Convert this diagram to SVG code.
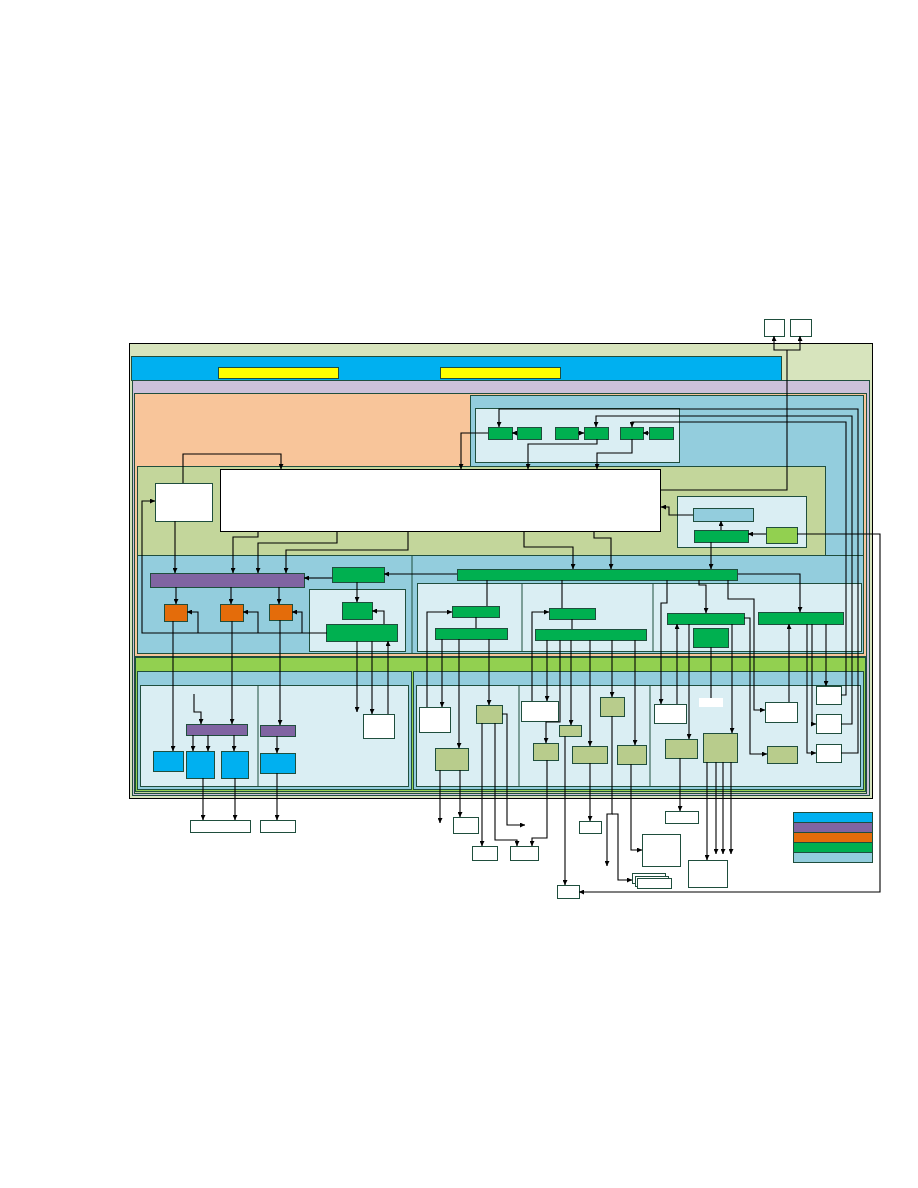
<svg xmlns="http://www.w3.org/2000/svg" width="918" height="1188" viewBox="0 0 918 1188">
<style>
.pn{stroke:#1f4e3d;stroke-width:1}
.bx{stroke:#1f4e3d;stroke-width:1}
.g{fill:#00b050}.o{fill:#e46c0a}.p{fill:#8064a2}.b{fill:#00b0f0}.w{fill:#fff}.ol{fill:#b8cc8c}.lb{fill:#93cddd}.lp{fill:#daeef3}.lm{fill:#92d050}.y{fill:#ffff00}
.c path{fill:none;stroke:#000;stroke-width:1.1}
</style>
<defs>
<marker id="a" viewBox="0 0 6 6" refX="6" refY="3" markerWidth="5" markerHeight="5" orient="auto" markerUnits="userSpaceOnUse"><path d="M0,0L6,3L0,6z" fill="#000"/></marker>
</defs>
<rect width="918" height="1188" fill="#fff"/>
<g id="frames">
<rect x="129.5" y="343.5" width="743" height="455" fill="#d7e4bd" stroke="#000"/>
<rect x="131.5" y="356.5" width="650" height="24" class="b pn"/>
<rect x="132.5" y="380.5" width="737" height="415" fill="#ccc1da" class="pn"/>
<rect x="134.5" y="393.5" width="732" height="263" fill="#f8c59a" class="pn"/>
<rect x="470.5" y="395.5" width="393" height="258" class="lb pn"/>
<rect x="137.5" y="555.5" width="726" height="98" class="lb pn"/>
<line x1="412" y1="555" x2="412" y2="653" stroke="#1f4e3d"/>
<rect x="137.5" y="466.5" width="688" height="89" fill="#c3d69b" class="pn"/>
<rect x="475.5" y="408.5" width="204" height="54" class="lp pn"/>
<rect x="677.5" y="496.5" width="129" height="51" class="lp pn"/>
<rect x="309.5" y="589.5" width="96" height="62" class="lp pn"/>
<rect x="417.5" y="583.5" width="444" height="68" class="lp pn"/>
<line x1="522" y1="583" x2="522" y2="651" stroke="#1f4e3d"/>
<line x1="653" y1="583" x2="653" y2="651" stroke="#1f4e3d"/>
<rect x="134.5" y="656.5" width="732" height="137" fill="#c3d69b" class="pn"/>
<rect x="135.5" y="657.5" width="730" height="134" class="lm pn"/>
<rect x="137.5" y="671.5" width="274" height="118" class="lb pn"/>
<rect x="413.5" y="671.5" width="450" height="118" class="lb pn"/>
<rect x="140.5" y="685.5" width="268" height="101" class="lp pn"/>
<line x1="258" y1="685" x2="258" y2="786" stroke="#1f4e3d"/>
<rect x="416.5" y="685.5" width="444" height="101" class="lp pn"/>
<line x1="519" y1="685" x2="519" y2="786" stroke="#1f4e3d"/>
<line x1="650" y1="685" x2="650" y2="786" stroke="#1f4e3d"/>
<rect x="218.5" y="367.5" width="120" height="11" class="y pn"/>
<rect x="440.5" y="367.5" width="120" height="11" class="y pn"/>
</g>
<g id="legend">
<rect x="793.5" y="812.5" width="79" height="10" class="b bx"/>
<rect x="793.5" y="822.5" width="79" height="10" class="p bx"/>
<rect x="793.5" y="832.5" width="79" height="10" class="o bx"/>
<rect x="793.5" y="842.5" width="79" height="10" class="g bx"/>
<rect x="793.5" y="852.5" width="79" height="10" class="lb bx"/>
</g>
<g id="nodes">
<rect id="t1" x="764.5" y="319.5" width="20" height="17" class="w bx"/>
<rect id="t2" x="790.5" y="319.5" width="21" height="17" class="w bx"/>
<rect id="g1" x="488.5" y="427.5" width="24" height="12" class="g bx"/>
<rect id="g2" x="517.5" y="427.5" width="24" height="12" class="g bx"/>
<rect id="g3" x="555.5" y="427.5" width="23" height="12" class="g bx"/>
<rect id="g4" x="584.5" y="427.5" width="24" height="12" class="g bx"/>
<rect id="g5" x="620.5" y="427.5" width="23" height="12" class="g bx"/>
<rect id="g6" x="649.5" y="427.5" width="24" height="12" class="g bx"/>
<rect id="big" x="220.5" y="469.5" width="440" height="62" class="w" stroke="#000"/>
<rect id="sw" x="155.5" y="483.5" width="57" height="38" class="w bx"/>
<rect id="lbx" x="693.5" y="508.5" width="60" height="13" class="lb bx"/>
<rect id="gpx" x="694.5" y="530.5" width="54" height="12" class="g bx"/>
<rect id="lime" x="766.5" y="527.5" width="31" height="16" class="lm bx"/>
<rect id="pur" x="150.5" y="573.5" width="154" height="14" class="p bx"/>
<rect id="ga" x="332.5" y="567.5" width="52" height="15" class="g bx"/>
<rect id="gb" x="342.5" y="602.5" width="30" height="17" class="g bx"/>
<rect id="gc" x="326.5" y="624.5" width="71" height="17" class="g bx"/>
<rect id="o1" x="164.5" y="604.5" width="23" height="17" class="o bx"/>
<rect id="o2" x="220.5" y="604.5" width="23" height="17" class="o bx"/>
<rect id="o3" x="269.5" y="604.5" width="23" height="16" class="o bx"/>
<rect id="bar" x="457.5" y="569.5" width="280" height="11" class="g bx"/>
<rect id="p1a" x="452.5" y="606.5" width="47" height="11" class="g bx"/>
<rect id="p1b" x="435.5" y="628.5" width="72" height="11" class="g bx"/>
<rect id="p2a" x="549.5" y="608.5" width="46" height="11" class="g bx"/>
<rect id="p2b" x="535.5" y="629.5" width="111" height="11" class="g bx"/>
<rect id="g3a" x="667.5" y="613.5" width="77" height="11" class="g bx"/>
<rect id="g3b" x="693.5" y="628.5" width="35" height="19" class="g bx"/>
<rect id="g4b" x="758.5" y="612.5" width="85" height="12" class="g bx"/>
<rect id="wsm" x="363.5" y="714.5" width="31" height="24" class="w bx"/>
<rect id="pu2" x="186.5" y="724.5" width="61" height="11" class="p bx"/>
<rect id="pu3" x="260.5" y="725.5" width="35" height="11" class="p bx"/>
<rect id="b1" x="153.5" y="751.5" width="30" height="20" class="b bx"/>
<rect id="b2" x="186.5" y="751.5" width="28" height="27" class="b bx"/>
<rect id="b3" x="221.5" y="751.5" width="27" height="27" class="b bx"/>
<rect id="b4" x="260.5" y="753.5" width="35" height="20" class="b bx"/>
<rect id="w1" x="419.5" y="707.5" width="31" height="25" class="w bx"/>
<rect id="ob1" x="435.5" y="748.5" width="33" height="22" class="ol bx"/>
<rect id="ob2" x="476.5" y="705.5" width="26" height="18" class="ol bx"/>
<rect id="w2" x="521.5" y="701.5" width="37" height="20" class="w bx"/>
<rect id="ob3" x="533.5" y="743.5" width="25" height="17" class="ol bx"/>
<rect id="ob4" x="559.5" y="725.5" width="22" height="11" class="ol bx"/>
<rect id="ob5" x="572.5" y="746.5" width="35" height="17" class="ol bx"/>
<rect id="ob6" x="600.5" y="697.5" width="24" height="19" class="ol bx"/>
<rect id="ob7" x="617.5" y="745.5" width="29" height="19" class="ol bx"/>
<rect id="w3" x="654.5" y="704.5" width="32" height="19" class="w bx"/>
<rect id="wnb" x="699" y="698" width="24" height="9" fill="#fff"/>
<rect id="w4" x="765.5" y="702.5" width="32" height="20" class="w bx"/>
<rect id="w5" x="816.5" y="686.5" width="25" height="18" class="w bx"/>
<rect id="w6" x="816.5" y="714.5" width="25" height="19" class="w bx"/>
<rect id="w7" x="816.5" y="744.5" width="25" height="18" class="w bx"/>
<rect id="ob8" x="665.5" y="739.5" width="32" height="19" class="ol bx"/>
<rect id="ob9" x="767.5" y="746.5" width="30" height="17" class="ol bx"/>
<rect id="ob10" x="703.5" y="733.5" width="34" height="29" class="ol bx"/>
<rect id="q0a" x="190.5" y="820.5" width="60" height="12" class="w bx"/>
<rect id="q0b" x="260.5" y="820.5" width="35" height="12" class="w bx"/>
<rect id="q1" x="453.5" y="817.5" width="25" height="16" class="w bx"/>
<rect id="q2" x="472.5" y="846.5" width="25" height="14" class="w bx"/>
<rect id="q3" x="510.5" y="846.5" width="28" height="14" class="w bx"/>
<rect id="q4" x="579.5" y="821.5" width="22" height="12" class="w bx"/>
<rect id="q5" x="557.5" y="885.5" width="22" height="13" class="w bx"/>
<rect id="q6" x="665.5" y="811.5" width="33" height="12" class="w bx"/>
<rect id="r1" x="642.5" y="834.5" width="38" height="32" class="w bx"/>
<rect id="r2" x="688.5" y="860.5" width="39" height="27" class="w bx"/>
<g id="stack">
<rect x="632.5" y="873.5" width="33" height="10" class="w bx"/>
<rect x="635.5" y="876.5" width="33" height="10" class="w bx"/>
<rect x="637.5" y="878.5" width="34" height="10" class="w bx"/>
</g>
</g>
<g id="connectors" class="c">
<path d="M517,433H512" marker-end="url(#a)"/>
<path d="M578,433H584" marker-end="url(#a)"/>
<path d="M649,433H643" marker-end="url(#a)"/>
<path d="M841,753H858V409H499V427" marker-end="url(#a)"/>
<path d="M841,724H852V416H596V427" marker-end="url(#a)"/>
<path d="M841,695H846V422H632V427" marker-end="url(#a)"/>
<path d="M488,433H461V469" marker-end="url(#a)"/>
<path d="M597,439V444H528V469" marker-end="url(#a)"/>
<path d="M632,439V453H597V469" marker-end="url(#a)"/>
<path d="M183,483V454H281V469" marker-end="url(#a)"/>
<path d="M327,633H142V501H155" marker-end="url(#a)"/>
<path d="M198,633V612H187" marker-end="url(#a)"/>
<path d="M258,633V612H243" marker-end="url(#a)"/>
<path d="M302,633V612H292" marker-end="url(#a)"/>
<path d="M175,521V573" marker-end="url(#a)"/>
<path d="M258,531V537H233V573" marker-end="url(#a)"/>
<path d="M337,531V543H258V573" marker-end="url(#a)"/>
<path d="M408,531V550H286V573" marker-end="url(#a)"/>
<path d="M332,578H304" marker-end="url(#a)"/>
<path d="M457,574H384" marker-end="url(#a)"/>
<path d="M357,582V602" marker-end="url(#a)"/>
<path d="M384,624V611H372" marker-end="url(#a)"/>
<path d="M357,641V712" marker-end="url(#a)"/>
<path d="M372,641V714" marker-end="url(#a)"/>
<path d="M388,714V641" marker-end="url(#a)"/>
<path d="M176,587V604" marker-end="url(#a)"/>
<path d="M231,587V604" marker-end="url(#a)"/>
<path d="M279,587V604" marker-end="url(#a)"/>
<path d="M173,621V751" marker-end="url(#a)"/>
<path d="M232,621V724" marker-end="url(#a)"/>
<path d="M280,620V725" marker-end="url(#a)"/>
<path d="M194,694V712H201V724" marker-end="url(#a)"/>
<path d="M193,735V751" marker-end="url(#a)"/>
<path d="M208,735V751" marker-end="url(#a)"/>
<path d="M234,735V751" marker-end="url(#a)"/>
<path d="M277,736V753" marker-end="url(#a)"/>
<path d="M203,778V820" marker-end="url(#a)"/>
<path d="M235,778V820" marker-end="url(#a)"/>
<path d="M277,773V820" marker-end="url(#a)"/>
<path d="M524,531V547H573V569" marker-end="url(#a)"/>
<path d="M594,531V538H611V569" marker-end="url(#a)"/>
<path d="M711,542V569" marker-end="url(#a)"/>
<path d="M721,530V521" marker-end="url(#a)"/>
<path d="M766,534H748" marker-end="url(#a)"/>
<path d="M693,515H669V507H661" marker-end="url(#a)"/>
<path d="M797,534H880V892H579" marker-end="url(#a)"/>
<path d="M661,490H787V350"/>
<path d="M787,350H774V336" marker-end="url(#a)"/>
<path d="M787,350H800V336" marker-end="url(#a)"/>
<path d="M738,574H800V612" marker-end="url(#a)"/>
<path d="M487,580V606"/>
<path d="M476,617V628"/>
<path d="M427,707V612H452" marker-end="url(#a)"/>
<path d="M442,639V707" marker-end="url(#a)"/>
<path d="M459,639V748" marker-end="url(#a)"/>
<path d="M489,639V705" marker-end="url(#a)"/>
<path d="M440,770V823" marker-end="url(#a)"/>
<path d="M460,770V817" marker-end="url(#a)"/>
<path d="M482,723V846" marker-end="url(#a)"/>
<path d="M495,723V840H517V846" marker-end="url(#a)"/>
<path d="M502,714H507V825H525" marker-end="url(#a)"/>
<path d="M562,580V608"/>
<path d="M572,619V629"/>
<path d="M532,701V612H549" marker-end="url(#a)"/>
<path d="M547,640V701" marker-end="url(#a)"/>
<path d="M560,640V722H546V743" marker-end="url(#a)"/>
<path d="M571,640V725" marker-end="url(#a)"/>
<path d="M590,640V746" marker-end="url(#a)"/>
<path d="M612,640V697" marker-end="url(#a)"/>
<path d="M635,640V745" marker-end="url(#a)"/>
<path d="M547,760V838H532V846" marker-end="url(#a)"/>
<path d="M565,736V885" marker-end="url(#a)"/>
<path d="M590,763V821" marker-end="url(#a)"/>
<path d="M612,716V814H607V866" marker-end="url(#a)"/>
<path d="M612,814H618V880H632" marker-end="url(#a)"/>
<path d="M631,764V850H642" marker-end="url(#a)"/>
<path d="M667,580V603H661V704" marker-end="url(#a)"/>
<path d="M699,580V585H706V613" marker-end="url(#a)"/>
<path d="M728,580V599H754V710H765" marker-end="url(#a)"/>
<path d="M677,704V624" marker-end="url(#a)"/>
<path d="M689,624V739" marker-end="url(#a)"/>
<path d="M732,624V733" marker-end="url(#a)"/>
<path d="M744,618H750V754H767" marker-end="url(#a)"/>
<path d="M711,647V698"/>
<path d="M789,702V624" marker-end="url(#a)"/>
<path d="M807,624V753H816" marker-end="url(#a)"/>
<path d="M812,624V724H816" marker-end="url(#a)"/>
<path d="M826,624V686" marker-end="url(#a)"/>
<path d="M680,758V811" marker-end="url(#a)"/>
<path d="M707,762V860" marker-end="url(#a)"/>
<path d="M716,762V854" marker-end="url(#a)"/>
<path d="M723,762V854" marker-end="url(#a)"/>
<path d="M731,762V854" marker-end="url(#a)"/>
</g>
</svg>
